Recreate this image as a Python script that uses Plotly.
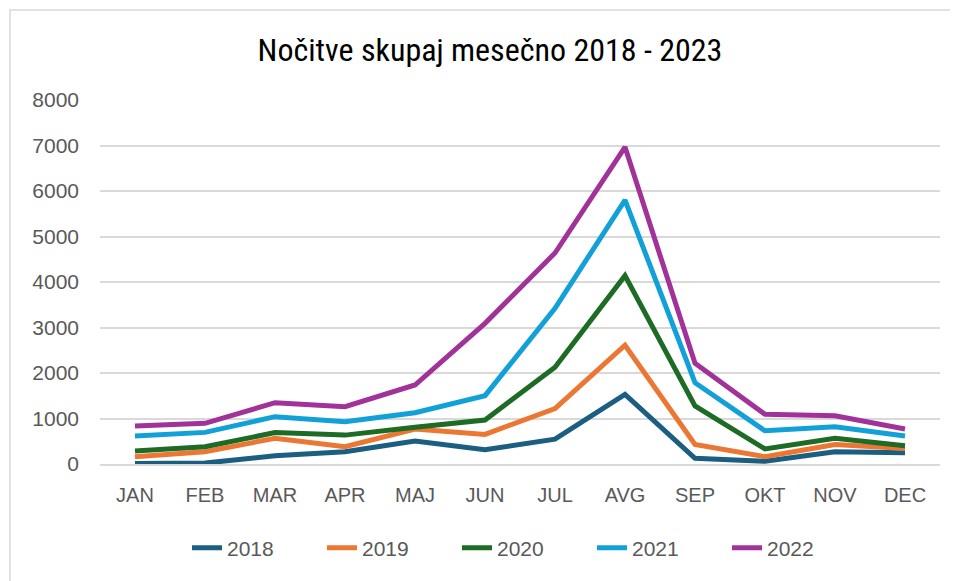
import plotly.graph_objects as go

months = ["JAN", "FEB", "MAR", "APR", "MAJ", "JUN", "JUL", "AVG", "SEP", "OKT", "NOV", "DEC"]
y2018 = [10, 20, 180, 270, 505, 315, 545, 1530, 125, 60, 270, 250]
y2019 = [160, 270, 565, 380, 770, 650, 1220, 2610, 430, 160, 430, 340]
y2020 = [285, 380, 690, 635, 810, 967, 2125, 4140, 1275, 330, 565, 400]
y2021 = [615, 695, 1040, 930, 1128, 1502, 3422, 5800, 1787, 730, 820, 615]
y2022 = [835, 893, 1348, 1260, 1736, 3092, 4637, 6965, 2213, 1092, 1062, 770]

series = [
    ("2018", y2018, "#1a5e82"),
    ("2019", y2019, "#eb7733"),
    ("2020", y2020, "#1d6b24"),
    ("2021", y2021, "#12a0d8"),
    ("2022", y2022, "#a0329a"),
]

fig = go.Figure()
for name, vals, col in series:
    fig.add_trace(go.Scatter(x=months, y=vals, mode="lines", name=name,
                             line=dict(color=col, width=5)))

W, H = 958, 581
OFF = 8  # page body margin
L, T = 100 - OFF, 100 - OFF
pw, ph = 840, 364
R = W - L - pw
B = H - T - ph

fig.update_layout(
    width=W, height=H,
    margin=dict(l=L, r=R, t=T, b=B),
    paper_bgcolor="white", plot_bgcolor="white",
    font=dict(family="Liberation Sans, Arial, sans-serif", color="#595959"),
    title=dict(text="Nočitve skupaj mesečno 2018 - 2023",
               font=dict(family="Liberation Sans Narrow, Roboto Condensed, Liberation Sans, sans-serif",
                         size=32, color="#000000"),
               x=(490 - OFF) / W, xanchor="center", xref="container",
               y=1 - (50 - OFF) / H, yanchor="middle"),
    showlegend=True,
    legend=dict(orientation="h", x=(187 - OFF - L) / pw, xanchor="left",
                y=-(548 - 464) / ph, yanchor="middle",
                font=dict(family="Liberation Sans, Arial, sans-serif", size=21, color="#595959"),
                entrywidth=90, entrywidthmode="pixels", tracegroupgap=0),
    xaxis=dict(range=[-0.5, 11.5], showgrid=False, ticks="", showline=True,
               linecolor="#d9d9d9", linewidth=1.5,
               tickfont=dict(size=20, color="#595959"), ticklabelstandoff=12),
    yaxis=dict(range=[0, 8000], dtick=1000, showgrid=True, gridcolor="#d9d9d9", gridwidth=1.5,
               zeroline=False, ticks="", showline=False,
               tickfont=dict(size=21, color="#595959"), tickformat="d", ticklabelstandoff=20),
    shapes=[dict(type="rect", xref="paper", yref="paper",
                 x0=(10 - 100) / pw, x1=(W + 20 - 100) / pw,
                 y0=-(H + 20 - 464) / ph, y1=(464 - 10) / ph,
                 line=dict(color="#d9d9d9", width=1.5), fillcolor="rgba(0,0,0,0)", layer="below")],
)

fig.write_html("out.html")
